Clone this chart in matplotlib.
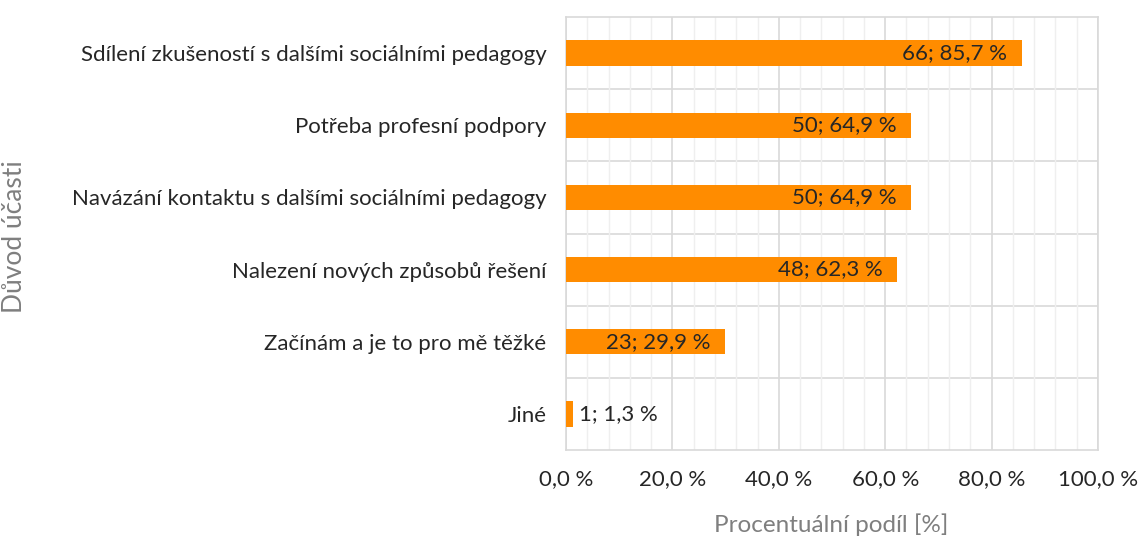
import matplotlib
matplotlib.use("Agg")
import matplotlib.pyplot as plt
from matplotlib.ticker import MultipleLocator, FuncFormatter
from matplotlib.transforms import offset_copy

categories = [
    "Sdílení zkušeností s dalšími sociálními pedagogy",
    "Potřeba profesní podpory",
    "Navázání kontaktu s dalšími sociálními pedagogy",
    "Nalezení nových způsobů řešení",
    "Začínám a je to pro mě těžké",
    "Jiné",
]
counts = [66, 50, 50, 48, 23, 1]
percents = [85.7, 64.9, 64.9, 62.3, 29.9, 1.3]
xticks = [0, 20, 40, 60, 80, 100]

plt.rcParams['font.family'] = ['Lato', 'DejaVu Sans']

fig = plt.figure(figsize=(11.41, 5.41), dpi=100)
ax = fig.add_axes([566/1141, 1-450/541, (1098-566)/1141, (450-17)/541])

n = len(categories)
ypos = list(range(n))
ax.barh(ypos, percents, height=0.35, color="#FF8C00", zorder=3)

ax.set_ylim(n - 0.5, -0.5)
ax.set_xlim(0, 100)

# grid
ax.xaxis.set_major_locator(MultipleLocator(20))
ax.xaxis.set_minor_locator(MultipleLocator(4))
ax.grid(which='major', axis='x', color='#D9D9D9', linewidth=1.2, zorder=0)
ax.grid(which='minor', axis='x', color='#EFEFEF', linewidth=1.0, zorder=0)
for b in range(1, n):
    ax.axhline(b - 0.5, color='#D9D9D9', linewidth=1.2, zorder=1)

for s in ax.spines.values():
    s.set_color('#D9D9D9')
    s.set_linewidth(1.2)

ax.set_yticks(ypos)
ax.set_yticklabels(categories)
ax.set_xticks(xticks)
ax.xaxis.set_major_formatter(FuncFormatter(lambda v, p: f"{v:.1f}".replace('.', ',') + "\u202f%"))
ax.tick_params(axis='both', which='both', length=0, labelsize=16, colors='#262626')
ax.tick_params(axis='y', pad=14)
ax.tick_params(axis='x', pad=14)

for i, (c, p) in enumerate(zip(counts, percents)):
    lab = f"{c}; " + f"{p:.1f}".replace('.', ',') + "\u202f%"
    if p > 10:
        tr = offset_copy(ax.transData, fig=fig, x=-15, y=0, units='dots')
        ax.text(p, i, lab, ha='right', va='center', fontsize=16, color='#262626', transform=tr, zorder=4)
    else:
        tr = offset_copy(ax.transData, fig=fig, x=6, y=0, units='dots')
        ax.text(p, i, lab, ha='left', va='center', fontsize=16, color='#262626', transform=tr, zorder=4)

fig.text(15/1141, 1 - 237/541, "Důvod účasti", rotation=90, ha='center', va='center',
         fontsize=19, color='#7F7F7F')
fig.text(831/1141, 1 - 525/541, "Procentuální podíl [%]", ha='center', va='center',
         fontsize=17.5, color='#7F7F7F')

fig.savefig("out.png", dpi=100)
